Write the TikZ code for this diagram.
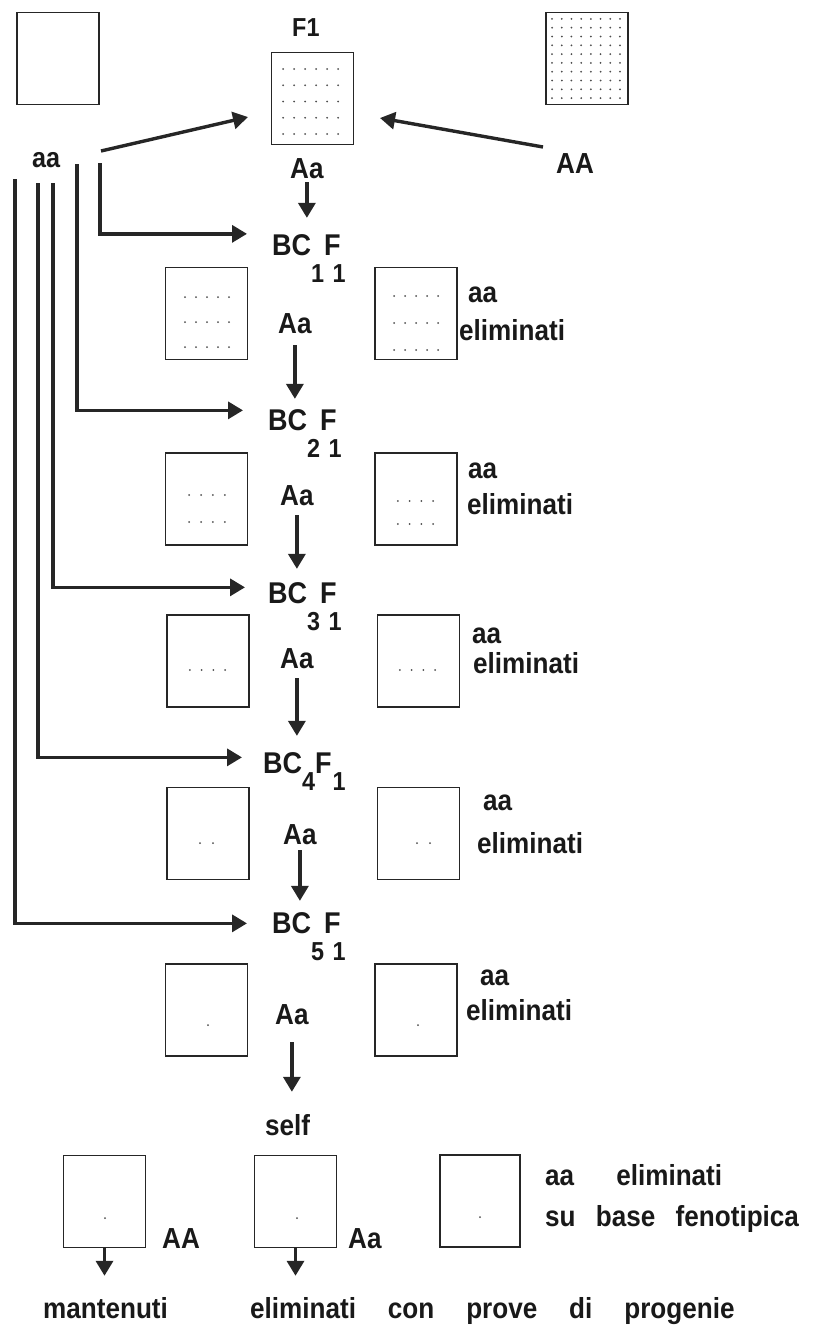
\documentclass[tikz,border=0pt]{standalone}
\usepackage{fontspec}
\setmainfont{Liberation Sans}[FakeStretch=0.9]
\usetikzlibrary{arrows.meta,positioning}

% label font
\newcommand{\lblfont}{\fontsize{29}{31}\selectfont\bfseries}
% generation label with lowered indices
\newcommand{\subsize}{\fontsize{26}{26}\selectfont}
\newcommand{\bcf}[3]{BC\raisebox{-#2}{\subsize #1}F\kern#3\raisebox{-#2}{\subsize 1}}

% grid of small dots inside a box: centre x, centre y, columns, rows, dx, dy
\newcommand{\plantdots}[6]{%
  \foreach \i in {1,...,#3}{%
    \foreach \j in {1,...,#4}{%
      \fill[dotfill] ({#1+(\i-(#3+1)/2)*#5},{#2+(\j-(#4+1)/2)*#6}) circle (1pt);}}}

\begin{document}
\begin{tikzpicture}[
  x=1pt, y=-1pt,
  box/.style={rectangle, draw=black!85, line width=1.5pt, minimum width=82pt, minimum height=92pt, inner sep=0pt},
  lbl/.style={inner sep=0pt, anchor=base west, text=black!90, font=\lblfont},
  arrow/.style={-{Triangle[length=15pt,width=17pt]}, line width=3.4pt, draw=black!85, line join=miter},
  dotfill/.style={fill=black!70}
]
\useasboundingbox (0,0) rectangle (814,1333);

% parents and F1
\node[box] (pa) at (58,58.5) {};
\node[box] (f1) at (312.5,98.5) {};
\node[box] (pA) at (587,58.5) {};
\plantdots{310.5}{101.5}{6}{5}{11}{16.25}
\plantdots{586}{58.5}{8}{10}{9.7}{8.8}

\node[lbl, font={\fontsize{26}{28}\selectfont\bfseries}] (f1lbl) at (292,36) {F1};
\node[lbl, font={\fontsize{28}{30}\selectfont\bfseries}] (aa0) at (32,167) {aa};
\node[lbl] (AA0) at (556,173) {AA};
\node[lbl] (Aa0) at (290,178) {Aa};

% backcross generations
\node[lbl, font={\fontsize{30}{32}\selectfont\bfseries}] (bc1) at (272,255) {\bcf{1}{27pt}{-8pt}};
\node[box] (l1) at (206.5,313.5) {};
\node[box, right=126pt of l1] (r1) {};
\plantdots{207}{322}{5}{3}{11}{25}
\plantdots{416}{323}{5}{3}{11}{27}
\node[lbl] (Aa1) at (278,333) {Aa};
\node[lbl] (aa1) at (468,302) {aa};
\node[lbl] (el1) at (459,340) {eliminati};

\node[lbl, font={\fontsize{30}{32}\selectfont\bfseries}] (bc2) at (268,430) {\bcf{2}{27pt}{-8pt}};
\node[box] (l2) at (206.5,499) {};
\node[box, right=126pt of l2] (r2) {};
\plantdots{207}{508.5}{4}{2}{11.9}{27}
\plantdots{415.5}{512.5}{4}{2}{11.7}{23}
\node[lbl] (Aa2) at (280,505) {Aa};
\node[lbl] (aa2) at (468,478) {aa};
\node[lbl] (el2) at (467,514) {eliminati};

\node[lbl, font={\fontsize{30}{32}\selectfont\bfseries}] (bc3) at (268,603) {\bcf{3}{27pt}{-8pt}};
\node[box] (l3) at (208,661) {};
\node[box, right=127pt of l3] (r3) {};
\plantdots{207.5}{670}{4}{1}{11.7}{0}
\plantdots{417.5}{670}{4}{1}{11.7}{0}
\node[lbl] (Aa3) at (280,668) {Aa};
\node[lbl] (aa3) at (472,643) {aa};
\node[lbl] (el3) at (473,673) {eliminati};

\node[lbl, font={\fontsize{30}{32}\selectfont\bfseries}] (bc4) at (263,773) {\bcf{4}{17pt}{1pt}};
\node[box] (l4) at (208,833.5) {};
\node[box, right=127pt of l4] (r4) {};
\plantdots{206.5}{843}{2}{1}{13}{0}
\plantdots{423.5}{843}{2}{1}{13}{0}
\node[lbl] (Aa4) at (283,844) {Aa};
\node[lbl] (aa4) at (483,810) {aa};
\node[lbl] (el4) at (477,853) {eliminati};

\node[lbl, font={\fontsize{30}{32}\selectfont\bfseries}] (bc5) at (272,933) {\bcf{5}{27pt}{-8pt}};
\node[box] (l5) at (206.5,1010) {};
\node[box, right=126pt of l5] (r5) {};
\plantdots{208}{1025}{1}{1}{0}{0}
\plantdots{418}{1025}{1}{1}{0}{0}
\node[lbl] (Aa5) at (275,1024) {Aa};
\node[lbl] (aa5) at (480,985) {aa};
\node[lbl] (el5) at (466,1020) {eliminati};

% selfing
\node[lbl] (self) at (265,1135) {self};
\node[box] (s1) at (104.5,1201.5) {};
\node[box] (s2) at (295.5,1201.5) {};
\node[box, minimum width=80pt] (s3) at (480,1201) {};
\plantdots{105}{1218}{1}{1}{0}{0}
\plantdots{297}{1218}{1}{1}{0}{0}
\plantdots{480}{1217}{1}{1}{0}{0}
\node[lbl] (AA6) at (162,1248) {AA};
\node[lbl] (Aa6) at (348,1248) {Aa};
\node[lbl] (aael) at (545,1185) {aa\hspace{1.45em}eliminati};
\node[lbl, font={\lblfont\spaceskip=0.7em\relax}] (fen) at (545,1226) {su base fenotipica};
\node[lbl] (mant) at (43,1318) {mantenuti};
\node[lbl, font={\lblfont\spaceskip=1.1em\relax}] (prog) at (250,1318) {eliminati con prove di progenie};

% crosses to F1
\coordinate (aaout) at (101,151);
\coordinate (f1inL) at (248,117);
\coordinate (AAout) at (543,147);
\coordinate (f1inR) at (380,118);
\draw[arrow] (aaout) -- (f1inL);
\draw[arrow] (AAout) -- (f1inR);

% recurrent parent rails
\coordinate (rail1) at (100,163);
\coordinate (rail2) at (77,164);
\coordinate (rail3) at (53,183);
\coordinate (rail4) at (38,183);
\coordinate (rail5) at (15,179);
\draw[arrow, shorten >=25pt] (rail1) |- (bc1.north west);
\draw[arrow, shorten >=25pt] (rail2) |- ([yshift=-1.5pt]bc2.north west);
\draw[arrow, shorten >=23pt] (rail3) |- ([yshift=-5.5pt]bc3.north west);
\draw[arrow, shorten >=21pt] (rail4) |- ([yshift=-5.5pt]bc4.north west);
\draw[arrow, shorten >=25pt] (rail5) |- ([yshift=-11.5pt]bc5.north west);

% down the chain
\draw[arrow, shorten <=4pt, shorten >=16pt] (Aa0.south) -- (Aa0.south |- bc1.north);
\draw[arrow, shorten <=12pt, shorten >=10pt] (Aa1.south) -- (Aa1.south |- bc2.north);
\draw[arrow, shorten <=10pt, shorten >=13pt] (Aa2.south) -- (Aa2.south |- bc3.north);
\draw[arrow, shorten <=10pt, shorten >=16pt] (Aa3.south) -- (Aa3.south |- bc4.north);
\draw[arrow, shorten <=6pt, shorten >=11pt] (Aa4.south) -- (Aa4.south |- bc5.north);
\draw[arrow, shorten <=18pt, shorten >=22pt] (Aa5.south) -- (Aa5.south |- self.north);

% fate of the selfed progeny
\draw[arrow, shorten >=21pt] (s1.south) -- (s1.south |- mant.north);
\draw[arrow, shorten >=21pt] (s2.south) -- (s2.south |- prog.north);

\end{tikzpicture}
\end{document}
